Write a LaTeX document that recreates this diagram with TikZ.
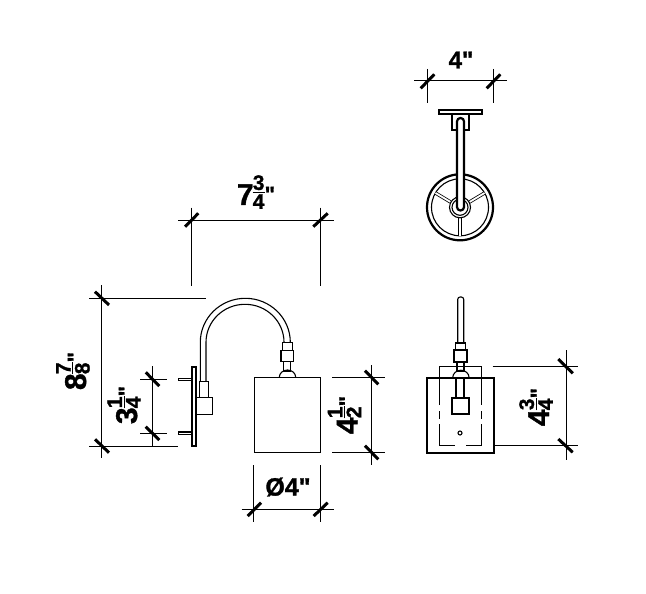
\documentclass[tikz,border=0pt]{standalone}
\usepackage{fontspec}
\setmainfont{Liberation Sans}[BoldFeatures={FakeBold=1.2}]
\newfontfamily\inchfont{Liberation Sans}[BoldFeatures={FakeBold=1.2}]
\newcommand{\dimfrac}[2]{\kern-0.5pt\raisebox{2.9pt}{$\vcenter{\offinterlineskip\fontsize{10.5}{10.5}\selectfont
 \hbox to 6pt{\hss #1\hss}\kern0.8pt\hrule height 0.5pt\kern0.8pt\hbox to 6pt{\hss #2\hss}}$}}
\newcommand{\inchmark}{\raisebox{1.5pt}{\inchfont\fontsize{11}{11}\selectfont "}}
\tikzset{
 dimline/.style={line width=0.5pt},
 tickmark/.style={line width=1.5pt},
 outline/.style={line width=0.55pt},
 heavyline/.style={line width=1.1pt},
 spoke/.style={line width=0.4pt,double=white,double distance=0.9pt},
 dimlabel/.style={font=\bfseries\fontsize{15}{15}\selectfont,inner sep=0pt},
}
\begin{document}
\begin{tikzpicture}[x=0.5pt,y=-0.5pt]
 \useasboundingbox (0,0) rectangle (646,593);
 % top view
 \draw[dimline](414,81)--(507,81);
 \draw[dimline](427,69)--(427,103);
 \draw[dimline](493,69)--(493,103);
 \draw[tickmark](420.7,88.3)--(434.3,74.3);
 \draw[tickmark](486.7,88.3)--(500.3,74.3);
 \node[dimlabel,font=\bfseries\fontsize{12}{12}\selectfont] (widthtop) at (461,60) {4{\inchfont"}};
 \draw[outline](439,110) rectangle (482,114);
 \draw[outline](452,114)--(452,130)--(469,130)--(469,114);
 \draw[heavyline](460,207.3) circle (33);
 \draw[outline](460,207.3) circle (28.5);
 \draw[spoke](460,217)--(460,236);
 \draw[spoke](450.5,202)--(435.5,193);
 \draw[spoke](469.5,202)--(484.5,193);
 \draw[outline,fill=white](460,207.3) circle (10.5);
 \draw[outline](460,207.3) circle (8);
 \draw[heavyline,fill=white,rounded corners=1.7pt](457,118) rectangle (464,210.5);
 % side view
 \draw[dimline](178.3,220.3)--(334,220.3);
 \draw[dimline](191.3,207.7)--(191.3,286);
 \draw[dimline](320.3,207.7)--(320.3,286);
 \draw[tickmark](185,226.7)--(198.3,213.3);
 \draw[tickmark](313.3,226.7)--(327.7,213.3);
 \node[dimlabel] (armreach) at (256,192) {7\dimfrac{3}{4}\inchmark};
 \draw[dimline](89.3,298.3)--(205.7,298.3);
 \draw[dimline](89.3,446.2)--(178.3,446.2);
 \draw[dimline](101.3,285)--(101.3,458);
 \draw[tickmark](95,291.7)--(109,305);
 \draw[tickmark](95,439.3)--(109,452.7);
 \node[dimlabel,rotate=90] (heighttotal) at (73,371) {8\dimfrac{7}{8}\inchmark};
 \draw[dimline](140,379.2)--(166.7,379.2);
 \draw[dimline](140,433.3)--(166.7,433.3);
 \draw[dimline](152.3,366)--(152.3,446.2);
 \draw[tickmark](145.7,372.3)--(159.3,386);
 \draw[tickmark](145.7,426.7)--(159.3,440);
 \node[dimlabel,rotate=90] (pinspacing) at (124,405) {3\dimfrac{1}{4}\inchmark};
 \draw[heavyline](191.7,366.7) rectangle (196.3,446);
 \draw[outline](178.3,378.3) rectangle (191.7,380.7);
 \draw[outline](178.3,432) rectangle (191.7,434.7);
 \draw[outline](200.3,381.7)--(200.3,342.3) arc[start angle=180,end angle=360,x radius=45,y radius=44];
 \draw[outline](206,381.7)--(206,342.3) arc[start angle=180,end angle=360,x radius=39,y radius=38];
 \draw[outline](199.3,381.7) rectangle (208.3,397.3);
 \draw[outline](196.7,397.3) rectangle (212.7,414.3);
 \draw[outline](282.7,342.3) rectangle (292.7,350.3);
 \draw[outline](281,350.3) rectangle (293.7,361.7);
 \draw[outline](283.7,361.7) rectangle (290.7,371);
 \draw[outline](279.3,377.3) arc[start angle=180,end angle=360,x radius=8.2,y radius=7.3];
 \draw[outline](254.3,377.3) rectangle (320.3,452.3);
 \draw[dimline](332.3,377.3)--(385,377.3);
 \draw[dimline](332.3,452.3)--(385,452.3);
 \draw[dimline](371.3,365)--(371.3,465);
 \draw[tickmark](365,370.7)--(378.3,384.3);
 \draw[tickmark](365,445.7)--(378.3,459.3);
 \node[dimlabel,rotate=90] (shadeheight) at (344.5,415) {4\dimfrac{1}{2}\inchmark};
 \draw[dimline](241.7,509.3)--(334,509.3);
 \draw[dimline](253.3,465)--(253.3,522.3);
 \draw[dimline](320.7,465)--(320.7,522.3);
 \draw[tickmark](247.7,516)--(261,502.7);
 \draw[tickmark](313.7,516)--(327.7,502.7);
 \node[dimlabel,font=\bfseries\fontsize{12.5}{12.5}\selectfont] (shadedia) at (288,487) {Ø4{\inchfont"}};
 % front view
 \draw[outline,rounded corners=1.2pt](457.7,343)--(457.7,297)--(463.7,297)--(463.7,343);
 \draw[outline](455.7,343) rectangle (465.7,350);
 \draw[outline](454,350) rectangle (467,362);
 \draw[outline](457,362) rectangle (464,371);
 \draw[outline](452.7,377.7) arc[start angle=180,end angle=360,x radius=8.2,y radius=7.5];
 \draw[outline](439.3,405)--(439.3,366.3)--(481.3,366.3)--(481.3,405);
 \draw[outline](439.3,411)--(439.3,419);
 \draw[outline](481.3,411)--(481.3,419);
 \draw[outline](439.3,424)--(439.3,445.7)--(455,445.7);
 \draw[outline](481.3,424)--(481.3,445.7)--(465.7,445.7);
 \draw[outline](456,377.7)--(456,398);
 \draw[outline](464,377.7)--(464,398);
 \draw[outline](452,398) rectangle (469,414);
 \draw[outline](460,433) circle (2);
 \draw[heavyline](426.7,377.7) rectangle (494.3,452.7);
 \draw[dimline](492.7,366.3)--(578,366.3);
 \draw[dimline](494.3,445.7)--(578,445.7);
 \draw[dimline](566,350)--(566,460);
 \draw[tickmark](558.3,359)--(572.7,373.3);
 \draw[tickmark](558.3,439)--(572.7,452.3);
 \node[dimlabel,rotate=90] (mountheight) at (536,407) {4\dimfrac{3}{4}\inchmark};
\end{tikzpicture}
\end{document}
